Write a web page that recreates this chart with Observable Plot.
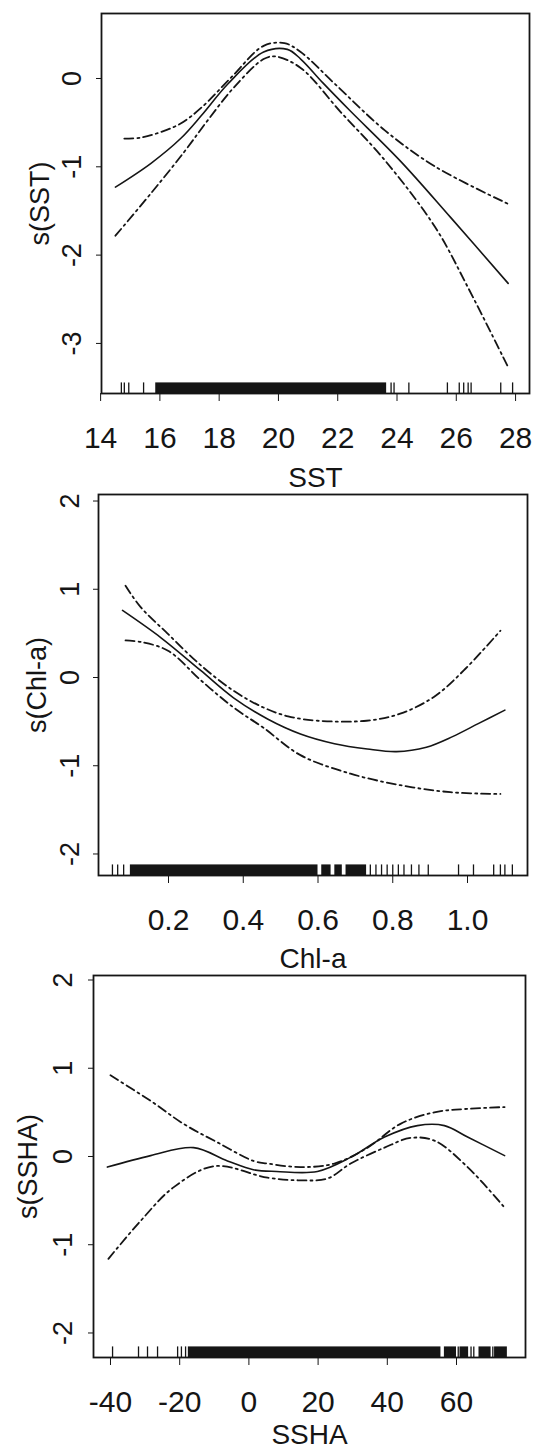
<!DOCTYPE html>
<html>
<head>
<meta charset="utf-8">
<script src="https://cdn.jsdelivr.net/npm/d3@7"></script>
<script src="https://cdn.jsdelivr.net/npm/@observablehq/plot@0.6"></script>
<style>
  body { margin: 0; background: #fff; }
  #chart { width: 537px; }
  #chart svg { display: block; overflow: visible; }
  #chart g[aria-label="x-axis label"] { font-size: 28px; }
</style>
</head>
<body>
<div id="chart"></div>
<script>
// ---------- Panel 1: SST ----------
const sstFitX   = [14.5, 15.7, 16.7, 17.4, 18.3, 19.5, 20.3, 20.75, 21.5, 22.4, 24.1, 25.8, 27.75];
const sstFitY   = [-1.23, -0.96, -0.68, -0.42, -0.06, 0.30, 0.33, 0.22, -0.05, -0.36, -0.93, -1.57, -2.32];
const sstUpX    = [14.8, 15.35, 16.0, 16.7, 17.4, 18.4, 19.5, 20.2, 20.75, 21.9, 23.6, 25.3, 27.75];
const sstUpY    = [-0.68, -0.67, -0.61, -0.51, -0.33, 0.01, 0.37, 0.40, 0.30, -0.06, -0.59, -1.0, -1.42];
const sstLoX    = [14.5, 15.7, 16.8, 17.6, 18.5, 19.5, 19.9, 20.75, 22.1, 23.6, 25.3, 26.4, 27.75];
const sstLoY    = [-1.78, -1.30, -0.84, -0.48, -0.10, 0.22, 0.25, 0.12, -0.38, -0.93, -1.69, -2.37, -3.27];
const sstRug    = [14.7, 14.8, 14.95, 15.45, 23.8, 23.9, 24.4, 25.7, 26.1, 26.25, 26.4, 26.5, 27.5, 27.9];
const sstRugDense = [[15.86, 23.65]];
const sstXTicks = [14, 16, 18, 20, 22, 24, 26, 28];
const sstYTicks = [0, -1, -2, -3];

// ---------- Panel 2: Chl-a ----------
const chlFitX   = [0.077, 0.18, 0.286, 0.374, 0.465, 0.553, 0.644, 0.732, 0.81, 0.89, 0.96, 1.03, 1.1];
const chlFitY   = [0.76, 0.45, 0.08, -0.23, -0.47, -0.64, -0.75, -0.81, -0.84, -0.79, -0.67, -0.52, -0.37];
const chlUpX    = [0.085, 0.125, 0.197, 0.286, 0.374, 0.454, 0.52, 0.6, 0.73, 0.82, 0.91, 0.99, 1.088];
const chlUpY    = [1.04, 0.80, 0.50, 0.14, -0.15, -0.34, -0.44, -0.49, -0.49, -0.41, -0.22, 0.08, 0.53];
const chlLoX    = [0.085, 0.13, 0.2, 0.286, 0.374, 0.454, 0.553, 0.687, 0.82, 0.954, 1.088];
const chlLoY    = [0.42, 0.40, 0.30, -0.03, -0.34, -0.57, -0.88, -1.09, -1.22, -1.30, -1.32];
const chlRug    = [0.05, 0.064, 0.08, 0.74, 0.755, 0.77, 0.785, 0.80, 0.815, 0.83, 0.85, 0.87, 0.895, 0.976, 1.016, 1.07, 1.088, 1.10, 1.12];
const chlRugDense = [[0.098, 0.60], [0.61, 0.635], [0.645, 0.665], [0.675, 0.73]];
const chlXTicks = [0.2, 0.4, 0.6, 0.8, 1.0];
const chlYTicks = [2, 1, 0, -1, -2];

// ---------- Panel 3: SSHA ----------
const sshaFitX  = [-40.9, -28.4, -16, -6.2, 1.3, 8, 19.8, 29.4, 39.2, 48.7, 56.5, 63.2, 73.9];
const sshaFitY  = [-0.12, 0.01, 0.10, -0.05, -0.15, -0.17, -0.17, -0.01, 0.22, 0.35, 0.35, 0.22, 0.01];
const sshaUpX   = [-40, -28.4, -18.9, -9.1, 1.3, 5.4, 14.9, 24.7, 34.3, 43.8, 53.6, 63.2, 73.9];
const sshaUpY   = [0.92, 0.63, 0.37, 0.16, -0.05, -0.08, -0.12, -0.08, 0.10, 0.37, 0.50, 0.54, 0.56];
const sshaLoX   = [-40.6, -31.3, -21.8, -10, 5.4, 14.9, 22.7, 29.4, 39.2, 46.7, 53.6, 63.2, 73.9];
const sshaLoY   = [-1.16, -0.73, -0.35, -0.11, -0.24, -0.27, -0.25, -0.08, 0.10, 0.21, 0.18, -0.12, -0.58];
const sshaRug   = [-39.4, -31.9, -29.3, -26.4, -20.6, -19.5, -18.3, 60.5, 64.2, 65.0, 70.5];
const sshaRugDense = [[-17.5, 55.5], [56.5, 60], [61, 63.5], [66.5, 70], [71, 74.7]];
const sshaXTicks = [-40, -20, 0, 20, 40, 60];
const sshaYTicks = [2, 1, 0, -1, -2];

const FONT = "'Liberation Sans', Arial, Helvetica, sans-serif";
const INK = "#151515";

function pts(xs, ys) { return xs.map((x, i) => ({x, y: ys[i]})); }

function panel(o) {
  const rugTop = o.yDomain[0] + 0.12;
  return Plot.plot({
    width: 537,
    height: o.height,
    marginTop: o.mt, marginBottom: o.mb, marginLeft: o.ml, marginRight: o.mr,
    style: {fontFamily: FONT, color: INK, background: "#fff"},
    x: {domain: o.xDomain},
    y: {domain: o.yDomain},
    marks: [
      Plot.rect(o.rugDense, {x1: d => d[0], x2: d => d[1], y1: o.yDomain[0], y2: rugTop, fill: INK}),
      Plot.ruleX(o.rug, {x: d => d, y1: o.yDomain[0], y2: rugTop, stroke: INK, strokeWidth: 1.3}),
      Plot.line(pts(o.upX, o.upY), {x: "x", y: "y", curve: "catmull-rom", stroke: INK, strokeWidth: 1.8, strokeDasharray: "9,4,2,4"}),
      Plot.line(pts(o.loX, o.loY), {x: "x", y: "y", curve: "catmull-rom", stroke: INK, strokeWidth: 1.8, strokeDasharray: "9,4,2,4"}),
      Plot.line(pts(o.fitX, o.fitY), {x: "x", y: "y", curve: "catmull-rom", stroke: INK, strokeWidth: 1.6}),
      Plot.frame({stroke: INK, strokeWidth: 1.8}),
      Plot.axisX({ticks: o.xTicks, tickFormat: o.xFormat, tickSize: 8, tickPadding: 25, fontSize: 30,
                  label: o.xLabel, labelAnchor: "center", labelArrow: "none", labelOffset: o.xLabelOffset}),
      Plot.axisY({ticks: o.yTicks, tickFormat: d => String(d), tickSize: 5, tickPadding: o.yTickPad, tickRotate: -90, fontSize: 27,
                  label: o.yLabel, labelAnchor: "center", labelArrow: "none", labelOffset: o.yLabelOffset})
    ]
  });
}

const chart = document.getElementById("chart");

chart.appendChild(panel({
  height: 489, mt: 13, mb: 96, ml: 101, mr: 8,
  xDomain: [14.03, 28.47], yDomain: [-3.567, 0.736],
  xTicks: sstXTicks, yTicks: sstYTicks, xFormat: d => String(d),
  fitX: sstFitX, fitY: sstFitY, upX: sstUpX, upY: sstUpY, loX: sstLoX, loY: sstLoY,
  rug: sstRug, rugDense: sstRugDense,
  xLabel: "SST", yLabel: "s(SST)", xLabelOffset: 93, yLabelOffset: 72, yTickPad: 16
}));

chart.appendChild(panel({
  height: 479, mt: 5, mb: 93, ml: 98, mr: 10,
  xDomain: [0.0127, 1.1605], yDomain: [-2.244, 2.074],
  xTicks: chlXTicks, yTicks: chlYTicks, xFormat: d3.format(".1f"),
  fitX: chlFitX, fitY: chlFitY, upX: chlUpX, upY: chlUpY, loX: chlLoX, loY: chlLoY,
  rug: chlRug, rugDense: chlRugDense,
  xLabel: "Chl-a", yLabel: "s(Chl-a)", xLabelOffset: 92, yLabelOffset: 72, yTickPad: 15
}));

chart.appendChild(panel({
  height: 479, mt: 7, mb: 90, ml: 93, mr: 12,
  xDomain: [-44.91, 79.94], yDomain: [-2.278, 2.051],
  xTicks: sshaXTicks, yTicks: sshaYTicks, xFormat: d => String(d),
  fitX: sshaFitX, fitY: sshaFitY, upX: sshaUpX, upY: sshaUpY, loX: sshaLoX, loY: sshaLoY,
  rug: sshaRug, rugDense: sshaRugDense,
  xLabel: "SSHA", yLabel: "s(SSHA)", xLabelOffset: 86, yLabelOffset: 76, yTickPad: 17
}));
</script>
</body>
</html>
